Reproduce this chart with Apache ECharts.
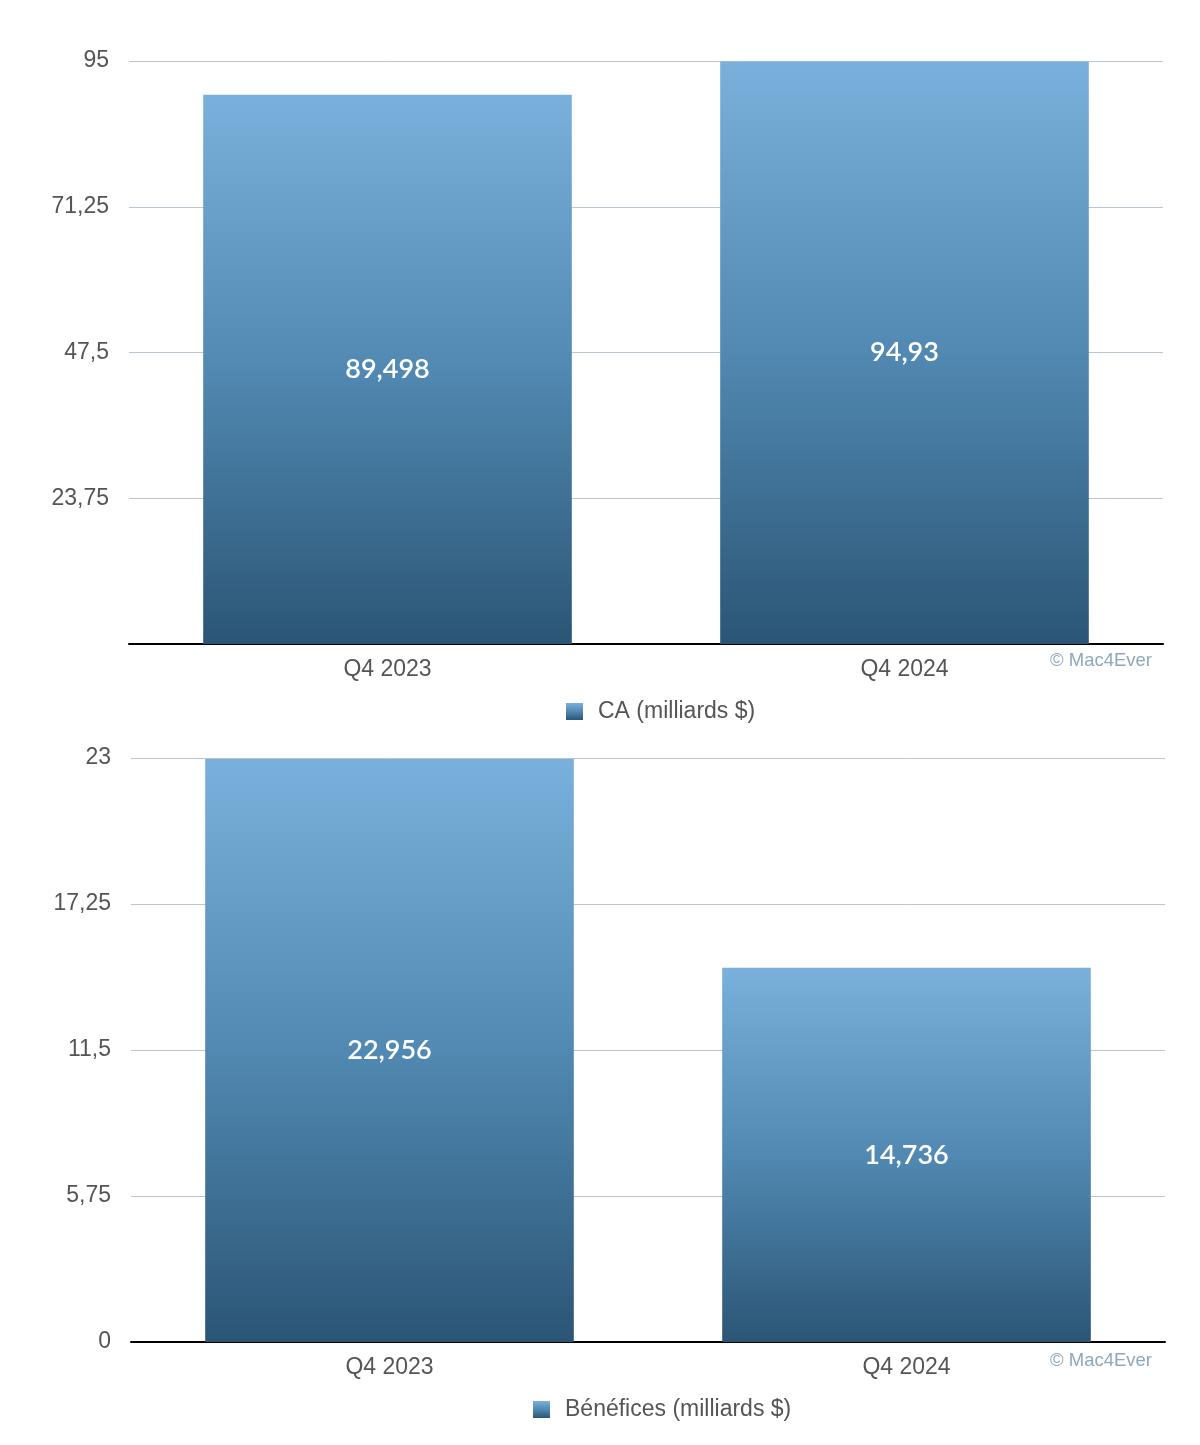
<!DOCTYPE html>
<html><head><meta charset="utf-8">
<script src="https://cdn.jsdelivr.net/npm/echarts@6/dist/echarts.min.js"></script>
<style>html,body{margin:0;padding:0;background:#fff}#c{width:1200px;height:1445px}</style>
</head><body><div id="c"></div>
<script>
const categories = ['Q4 2023', 'Q4 2024'];
const caValues = [89.498, 94.93];
const benefValues = [22.956, 14.736];
const caName = 'CA (milliards $)';
const benefName = 'Bénéfices (milliards $)';
const caMax = 95, caInterval = 23.75;
const benefMax = 23, benefInterval = 5.75;
const watermark = '© Mac4Ever';

const fmt = v => String(v).replace('.', ',');
const grad = () => new echarts.graphic.LinearGradient(0, 0, 0, 1, [
  {offset: 0, color: '#79b1dc'}, {offset: 0.5, color: '#5189b2'}, {offset: 1, color: '#2b5575'}
]);
const axisLabel = {color: '#555', fontSize: 23, fontFamily: 'Liberation Sans', margin: 20, formatter: fmt};
const barLabel = {show: true, position: 'inside', color: '#fff', fontSize: 27, fontWeight: 600, fontFamily: 'Lato', formatter: p => fmt(p.value)};

const chart = echarts.init(document.getElementById('c'), null, {renderer: 'canvas'});
chart.setOption({
  animation: false,
  grid: [
    {left: 129, right: 37, top: 61, bottom: 801},
    {left: 131, right: 35, top: 758, bottom: 103}
  ],
  xAxis: [0, 1].map(i => ({
    type: 'category', gridIndex: i, data: categories,
    axisLine: {lineStyle: {color: '#000', width: 2}},
    axisTick: {show: false},
    axisLabel: {color: '#555', fontSize: 23, fontFamily: 'Liberation Sans', margin: 14}
  })),
  yAxis: [
    {type: 'value', gridIndex: 0, min: 0, max: caMax, interval: caInterval,
     axisLabel: Object.assign({}, axisLabel, {showMinLabel: false}),
     splitLine: {lineStyle: {color: '#b9c5cf', width: 1}}, axisLine: {show: false}, axisTick: {show: false}},
    {type: 'value', gridIndex: 1, min: 0, max: benefMax, interval: benefInterval,
     axisLabel: axisLabel,
     splitLine: {lineStyle: {color: '#b9c5cf', width: 1}}, axisLine: {show: false}, axisTick: {show: false}}
  ],
  legend: [
    {data: [{name: caName, icon: 'rect'}], top: 695, left: 561, itemWidth: 17, itemHeight: 17, itemGap: 10,
     textStyle: {color: '#555', fontSize: 23, fontFamily: 'Liberation Sans', padding: [0, 0, 0, 10]}},
    {data: [{name: benefName, icon: 'rect'}], top: 1393, left: 528, itemWidth: 17, itemHeight: 17, itemGap: 10,
     textStyle: {color: '#555', fontSize: 23, fontFamily: 'Liberation Sans', padding: [0, 0, 0, 10]}}
  ],
  series: [
    {name: caName, type: 'bar', xAxisIndex: 0, yAxisIndex: 0, data: caValues, barWidth: '71.3%',
     itemStyle: {color: grad()}, label: barLabel},
    {name: benefName, type: 'bar', xAxisIndex: 1, yAxisIndex: 1, data: benefValues, barWidth: '71.3%',
     itemStyle: {color: grad()}, label: barLabel}
  ],
  graphic: [
    {type: 'text', right: 48, top: 651, style: {text: watermark, fill: '#8fa6bd', fontSize: 18.5, fontFamily: 'Liberation Sans'}},
    {type: 'text', right: 48, top: 1351, style: {text: watermark, fill: '#8fa6bd', fontSize: 18.5, fontFamily: 'Liberation Sans'}}
  ]
});
</script></body></html>
